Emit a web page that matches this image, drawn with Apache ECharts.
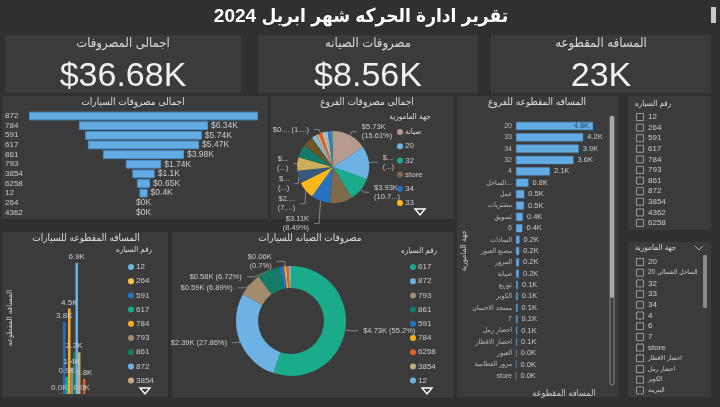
<!DOCTYPE html>
<html><head><meta charset="utf-8">
<script src="https://cdn.jsdelivr.net/npm/echarts@6/dist/echarts.min.js"></script>
<style>html,body{margin:0;padding:0;background:#303030;}#c{width:720px;height:407px;}</style>
</head><body><div id="c"></div>
<script>
// ---------- data ----------
const reportTitle = 'تقرير ادارة الحركه شهر ابريل 2024';
const kpiTitles = ['اجمالى المصروفات', 'مصروفات الصيانه', 'المسافه المقطوعه'];

const funnelTitle = 'اجمالى مصروفات السيارات';
const funnelCars = ['872','784','591','617','861','793','3854','6258','12','264','4362'];
const funnelExpense = [11.26, 6.34, 5.74, 5.47, 3.98, 1.74, 1.1, 0.65, 0.4, 0, 0];

const branchPieTitle = 'اجمالى مصروفات الفروع';
const branchLegendTitle = 'جهة المامورية';
const branchPieNames = ['صيانة','20','32','store','34','33','4','6','7','الساحل الشمالي 20','عمل','مشتريات','تسويق','السادات','مصنع العبور','المرور','توزيع','الكوبر'];
const branchPieExpense = [5.726, 5.465, 3.93, 3.74, 3.114, 2.86, 2.05, 2.24, 2.13, 1.83, 0.7, 0.55, 0.55, 0.48, 0.44, 0.37, 0.33, 0.18];
const branchPieLabels = ['$5.73K\n(15.61%)', '$...\n(...)', '$3.93K\n(10.7...)', '', '$3.11K\n(8.49%)', '$2....\n(7....)', '$...\n(...)', '$...\n(...)', '', '', '', '', '$0.... (1....)', '', '', '', '', ''];
const branchPieColors = ['#B79A8E','#6CB2E4','#1AAB8B','#7F6A4C','#2870C0','#FFB81C','#365A78','#CDAE5A','#147B69','#6B5624','#7DBCE8','#C9A97E','#E45F2B','#D8C08E','#8FC6EE','#2F7FD0','#5F7F95','#20B090'];

const branchBarTitle = 'المسافه المقطوعه للفروع';
const branchBarAxisName = 'جهة المامورية';
const distanceAxisName = 'المسافه المقطوعه';
const branchBarNames = ['20','33','34','32','4','الساحل الشمالي 20','عمل','مشتريات','تسويق','6','السادات','مصنع العبور','المرور','صيانة','توزيع','الكوبر','مسجد الاحسان','7','احضار رمل','احضار الاقطار','العبور','مرور القطامية','store'];
const branchDistance = [4.82, 4.2, 3.92, 3.6, 2.12, 0.78, 0.52, 0.5, 0.43, 0.4, 0.22, 0.2, 0.19, 0.18, 0.12, 0.11, 0.1, 0.1, 0.08, 0.07, 0.04, 0.03, 0.02];

const carBarTitle = 'المسافه المقطوعه للسيارات';
const carLegendTitle = 'رقم السياره';
const carNames = ['12','264','591','617','784','793','861','872','3854','4362','6258'];
const carDistance = [0.02, 0.01, 3.8, 0.9, 4.5, 1.4, 2.2, 6.9, 2.2, 0.01, 0.8];
const carColors = ['#6CB2E4','#F3C73F','#2870C0','#1AAB8B','#FAB01E','#A38C6E','#147B69','#6CB2E4','#C9A97E','#8C6BB1','#E45F2B'];
const carHiddenLabels = ['264','3854'];

const donutTitle = 'مصروفات الصيانه للسيارات';
const donutCars = ['617','872','793','861','591','784','6258','3854','12'];
const donutMaint = [4.726, 2.3855, 0.59, 0.5755, 0.11, 0.06, 0.05, 0.035, 0.03];
const donutLabelled = ['617','872','793','861','784'];

const slicerCars = ['12','264','591','617','784','793','861','872','3854','4362','6258'];
const slicerBranches = ['20','الساحل الشمالي 20','32','33','34','4','6','7','store','احضار الاقطار','احضار رمل','الكوبر','البترينة'];

// ---------- helpers ----------
const FONT = '"Liberation Sans", "DejaVu Sans Condensed", "DejaVu Sans", sans-serif';
const sum = a => a.reduce((s, v) => s + v, 0);
const f2 = v => String(Number(v.toFixed(2)));
const colorOf = (names, colors) => n => colors[names.indexOf(n)];

const PANEL = '#3b3b3b';
const g = [];
function rect(x, y, w, h, fill) { g.push({type:'rect', z:-5, silent:true, shape:{x, y, width:w, height:h}, style:{fill}}); }
function txt(x, y, text, o) {
  g.push({type:'text', silent:true, x, y, style:Object.assign({text, fill:'#dddddd', fontSize:10, fontFamily:FONT, align:'center', verticalAlign:'middle'}, o || {})});
}
function arrow(x, y) {
  g.push({type:'polygon', silent:true, shape:{points:[[x-5,y-3],[x+5,y-3],[x,y+3]]}, style:{fill:'none', stroke:'#ffffff', lineWidth:1.4}});
}

// page title + scrollbar
txt(361, 17, reportTitle, {fontSize:19, fontWeight:'bold', fill:'#ffffff', fontFamily:'"Liberation Sans", "DejaVu Sans Condensed", sans-serif'});
rect(711, 7, 5, 16, '#cccccc');

// KPI cards
const kpiBoxes = [[5,35,236,58],[258,35,220,58],[491,35,220,58]];
const kpiValues = ['$' + f2(sum(funnelExpense)) + 'K', '$' + f2(sum(donutMaint)) + 'K', Math.round(sum(branchDistance)) + 'K'];
kpiBoxes.forEach((b, i) => {
  rect(b[0], b[1], b[2], b[3], PANEL);
  txt(b[0] + b[2] / 2, 43, kpiTitles[i], {fontSize:13, fill:'#d8d8d8'});
  txt(b[0] + b[2] / 2, 77, kpiValues[i], {fontSize:34, fill:'#f0f0f0'});
});

// panels
[[2,96,266,123],[271,96,183,123],[457,96,161,301],[628,96,83,134],[628,242,83,155],[2,232,166,165],[172,232,282,166]]
  .forEach(b => rect(b[0], b[1], b[2], b[3], PANEL));
txt(133, 102, funnelTitle);
txt(367, 102, branchPieTitle);
txt(537, 102, branchBarTitle);
txt(86, 238, carBarTitle);
txt(310, 238, donutTitle);
txt(410, 117, branchLegendTitle, {fontSize:8});
txt(134, 250, carLegendTitle, {fontSize:8});
txt(419, 251, carLegendTitle, {fontSize:8});
arrow(420, 212); arrow(145, 391); arrow(427, 391);

// right bar scrollbar
g.push({type:'rect', silent:true, shape:{x:610, y:116, width:4, height:269, r:2}, style:{fill:'none', stroke:'#8a8a8a', lineWidth:1}});
g.push({type:'rect', silent:true, shape:{x:610, y:116, width:4, height:182, r:2}, style:{fill:'#a8a8a8'}});

// slicers
txt(635, 104, carLegendTitle, {fontSize:8, align:'left'});
slicerCars.forEach((n, i) => {
  const y = 117 + i * 10.6;
  g.push({type:'rect', silent:true, shape:{x:636.5, y:y-3.5, width:7, height:7}, style:{fill:'none', stroke:'#b0b0b0', lineWidth:0.8}});
  txt(648, y, n, {fontSize:8, align:'left', fill:'#cccccc'});
});
txt(635, 248, branchLegendTitle, {fontSize:8, align:'left'});
g.push({type:'polyline', silent:true, shape:{points:[[695,246],[699,250],[703,246]]}, style:{stroke:'#cccccc', lineWidth:0.8, fill:'none'}});
g.push({type:'rect', silent:true, shape:{x:703, y:255, width:4, height:53, r:1}, style:{fill:'#8a8a8a'}});
slicerBranches.forEach((n, i) => {
  const y = 262 + i * 10.7;
  g.push({type:'rect', silent:true, shape:{x:636.5, y:y-3.5, width:7, height:7}, style:{fill:'none', stroke:'#b0b0b0', lineWidth:0.8}});
  txt(648, y, n, {fontSize:/^[\x00-\x7F]*$/.test(n) ? 8 : 6.5, align:'left', fill:'#cccccc'});
});

// ---------- series ----------
const fMax = Math.max(...funnelExpense);
const BLUE = '#62ABE3', BLUE_B = '#4B92CB';
const legendBase = {orient:'vertical', icon:'circle', itemWidth:6, itemHeight:6, itemGap:6.2, selectedMode:false,
  textStyle:{color:'#cccccc', fontSize:8, padding:[0,0,0,-3]}};

const series = [
  {type:'bar', xAxisIndex:0, yAxisIndex:0, stack:'funnel', silent:true, barCategoryGap:'10%',
   data: funnelExpense.map(v => (fMax - v) / 2), itemStyle:{color:'rgba(0,0,0,0)'}},
  {type:'bar', name:'funnel', xAxisIndex:0, yAxisIndex:0, stack:'funnel', barCategoryGap:'10%',
   data: funnelExpense.map((v, i) => ({value:v,
     label: i === 0 ? {show:false} : (v === 0 ? {position:'inside'} : {}),
     itemStyle: v === 0 ? {borderWidth:0} : {}})),
   itemStyle:{color:BLUE, borderColor:BLUE_B, borderWidth:1},
   label:{show:true, position:'right', distance:3, fontSize:8.5, color:'#cccccc', formatter: p => '$' + f2(p.value) + 'K'}},
  {type:'bar', name:'branchBar', xAxisIndex:1, yAxisIndex:1, barCategoryGap:'28%',
   data: branchDistance.map((v, i) => i === 0 ? {value:v, label:{position:'insideRight', color:'#2E4A66'}} : v),
   itemStyle:{color:BLUE, borderColor:BLUE_B, borderWidth:0.5},
   label:{show:true, position:'right', distance:4, fontSize:7.5, color:'#cccccc', formatter: p => p.value.toFixed(1) + 'K'}},
  {type:'pie', name:'branchPie', center:[333,167], radius:36, startAngle:90, clockwise:true,
   data: branchPieNames.map((n, i) => ({name:n, value:branchPieExpense[i], itemStyle:{color:branchPieColors[i]},
     label:{show: !!branchPieLabels[i]}, labelLine:{show: !!branchPieLabels[i]}})),
   label:{formatter: p => branchPieLabels[p.dataIndex], fontSize:7.5, color:'#cccccc', lineHeight:9},
   labelLine:{length:4, length2:5, lineStyle:{color:'#999999', width:0.8}}},
  {type:'pie', name:'donut', center:[291,321], radius:[33,55], startAngle:90, clockwise:true,
   data: donutCars.map((n, i) => ({name:n, value:donutMaint[i], itemStyle:{color: colorOf(carNames, carColors)(n)},
     label:{show: donutLabelled.includes(n)}, labelLine:{show: donutLabelled.includes(n)}})),
   label:{fontSize:7.5, color:'#cccccc', lineHeight:9, formatter: p => {
     const pct = Number((p.value / sum(donutMaint) * 100).toFixed(2));
     return '$' + f2(p.value) + 'K' + (pct < 1 ? '\n' : ' ') + '(' + pct + '%)';
   }},
   labelLine:{length:5, length2:8, lineStyle:{color:'#999999', width:0.8}}}
];
carNames.forEach((n, i) => series.push({
  type:'bar', name:n, xAxisIndex:2, yAxisIndex:2, barGap:'0%', barCategoryGap:'4%',
  data:[carDistance[i]], itemStyle:{color:carColors[i]},
  label:{show: !carHiddenLabels.includes(n), position:'top', distance:2, fontSize:8, color:'#cccccc', formatter: p => p.value.toFixed(1) + 'K'}
}));

const hiddenAxis = {axisLine:{show:false}, axisTick:{show:false}, axisLabel:{show:false}, splitLine:{show:false}};
const option = {
  backgroundColor:'#303030',
  animation:false,
  textStyle:{fontFamily:FONT},
  graphic:{elements:g},
  grid:[
    {left:29, top:111.2, width:229, height:106},
    {left:516, top:120.3, width:96, height:261.3},
    {left:57.5, top:242, width:28.5, height:152}
  ],
  xAxis:[
    Object.assign({type:'value', gridIndex:0, min:0, max:fMax}, hiddenAxis),
    Object.assign({type:'value', gridIndex:1, min:0, max:6, name:distanceAxisName, nameLocation:'middle', nameGap:7,
      nameTextStyle:{color:'#cccccc', fontSize:9}}, hiddenAxis),
    Object.assign({type:'category', gridIndex:2, data:['']}, hiddenAxis)
  ],
  yAxis:[
    {type:'category', gridIndex:0, data:funnelCars, inverse:true, axisLine:{show:false}, axisTick:{show:false},
     axisLabel:{interval:0, align:'left', margin:24, color:'#cccccc', fontSize:8}},
    {type:'category', gridIndex:1, data:branchBarNames, inverse:true, axisLine:{show:false}, axisTick:{show:false},
     axisLabel:{interval:0, margin:4, color:'#bbbbbb', fontSize:7, width:44, overflow:'truncate', ellipsis:'...'},
     name:branchBarAxisName, nameLocation:'middle', nameRotate:90, nameGap:48, nameTextStyle:{color:'#cccccc', fontSize:8}},
    Object.assign({type:'value', gridIndex:2, min:0, max:8, name:distanceAxisName, nameLocation:'middle', nameGap:44,
      nameTextStyle:{color:'#cccccc', fontSize:8}}, hiddenAxis)
  ],
  legend:[
    Object.assign({data:branchPieNames.slice(0, 6), left:392, top:123}, legendBase),
    Object.assign({data:carNames.slice(0, 9), left:123, top:258}, legendBase),
    Object.assign({data:donutCars, left:405, top:258}, legendBase)
  ],
  series
};
echarts.init(document.getElementById('c'), null, {renderer:'canvas'}).setOption(option);
</script></body></html>
